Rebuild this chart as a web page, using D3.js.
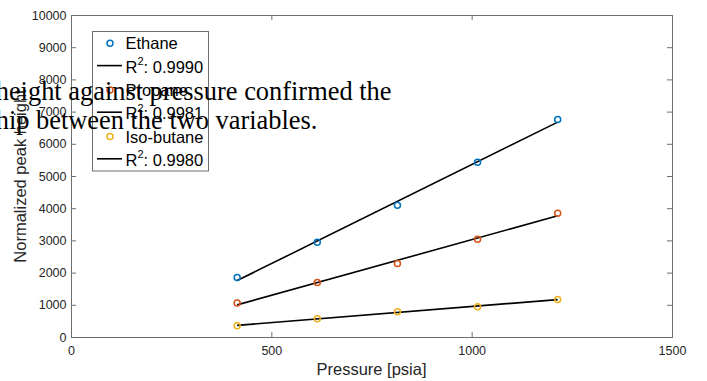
<!DOCTYPE html>
<html>
<head>
<meta charset="utf-8">
<script src="https://cdn.jsdelivr.net/npm/d3@7"></script>
<style>
  body { margin: 0; background: #fff; }
  svg { display: block; }
</style>
</head>
<body>
<div id="chart"></div>
<script>
// data
const pressure = [414.7, 614.7, 814.7, 1014.7, 1214.7];
const ethane = [1847, 2945, 4091, 5424, 6757];
const propane = [1054, 1693, 2282, 3037, 3843];
const isobutane = [350, 567, 784, 939, 1166];
const seriesNames = ["Ethane", "Propane", "Iso-butane"];
const r2Labels = ["0.9990", "0.9981", "0.9980"];
const xTicks = [0, 500, 1000, 1500];
const yTicks = [0, 1000, 2000, 3000, 4000, 5000, 6000, 7000, 8000, 9000, 10000];
const colors = ["#0072BD", "#D95319", "#EDB120"];

const width = 707;
const height = 381;
const sans = "'Liberation Sans', Arial, Helvetica, sans-serif";

const svg = d3
  .select("#chart")
  .append("svg")
  .attr("width", width)
  .attr("height", height);

const x = d3.scaleLinear().domain([0, 1500]).range([71, 672]);
const y = d3.scaleLinear().domain([0, 10000]).range([337, 15]);

// least squares line through each series
function fit(ys) {
  const mx = d3.mean(pressure);
  const my = d3.mean(ys);
  let sxy = 0, sxx = 0;
  pressure.forEach((p, i) => {
    sxy += (p - mx) * (ys[i] - my);
    sxx += (p - mx) * (p - mx);
  });
  const b = sxy / sxx;
  const x0 = d3.min(pressure), x1 = d3.max(pressure);
  return [[x0, my + b * (x0 - mx)], [x1, my + b * (x1 - mx)]];
}

const series = [ethane, propane, isobutane].map((v, i) => {
  return {
    name: seriesNames[i],
    color: colors[i],
    points: pressure.map((p, j) => [p, v[j]]),
    line: fit(v)
  };
});

// axes box
svg
  .append("rect")
  .attr("x", x(0) + 0.5)
  .attr("y", y(10000) + 0.5)
  .attr("width", x(1500) - x(0))
  .attr("height", y(0) - y(10000))
  .attr("fill", "none")
  .attr("stroke", "#6e6e6e");

function styleAxis(g) {
  g.select(".domain").remove();
  g.selectAll("line").attr("stroke", "#6e6e6e");
  g.selectAll("text")
    .attr("fill", "#262626")
    .attr("font-family", sans)
    .attr("font-size", "12.5px");
}

const fmt = d3.format("d");

svg
  .append("g")
  .attr("transform", `translate(0,${y(0)})`)
  .call(d3.axisBottom(x).tickValues(xTicks).tickFormat(fmt).tickSizeInner(-5).tickSizeOuter(0).tickPadding(9))
  .call(styleAxis);

svg
  .append("g")
  .attr("transform", `translate(0,${y(10000)})`)
  .call(d3.axisTop(x).tickValues(xTicks).tickSizeInner(-5).tickSizeOuter(0).tickFormat(""))
  .call(styleAxis);

svg
  .append("g")
  .attr("transform", `translate(${x(0)},0)`)
  .call(d3.axisLeft(y).tickValues(yTicks).tickFormat(fmt).tickSizeInner(-5).tickSizeOuter(0).tickPadding(4.5))
  .call(styleAxis);

svg
  .append("g")
  .attr("transform", `translate(${x(1500)},0)`)
  .call(d3.axisRight(y).tickValues(yTicks).tickSizeInner(-5).tickSizeOuter(0).tickFormat(""))
  .call(styleAxis);

// axis titles
svg
  .append("text")
  .attr("x", (x(0) + x(1500)) / 2)
  .attr("y", 374.5)
  .attr("text-anchor", "middle")
  .attr("font-family", sans)
  .attr("font-size", "16.5px")
  .attr("fill", "#262626")
  .text("Pressure [psia]");

svg
  .append("text")
  .attr("transform", `translate(26,${(y(0) + y(10000)) / 2}) rotate(-90)`)
  .attr("text-anchor", "middle")
  .attr("font-family", sans)
  .attr("font-size", "16.5px")
  .attr("fill", "#262626")
  .text("Normalized peak height");

// fit lines
const line = d3.line().x(d => x(d[0])).y(d => y(d[1]));

svg
  .append("g")
  .selectAll("path")
  .data(series)
  .enter()
  .append("path")
  .attr("d", d => line(d.line))
  .attr("fill", "none")
  .attr("stroke", "#000")
  .attr("stroke-width", 1.6);

// markers
let markerGroups = svg
  .append("g")
  .selectAll("g")
  .data(series)
  .enter()
  .append("g");

markerGroups
  .selectAll("circle")
  .data(d => d.points.map(p => ({ p: p, color: d.color })))
  .enter()
  .append("circle")
  .attr("cx", d => x(d.p[0]))
  .attr("cy", d => y(d.p[1]))
  .attr("r", 3)
  .attr("fill", "none")
  .attr("stroke", d => d.color)
  .attr("stroke-width", 1.5);

// legend
const legend = svg.append("g");
legend
  .append("rect")
  .attr("x", 92.5)
  .attr("y", 31.5)
  .attr("width", 116)
  .attr("height", 139.5)
  .attr("fill", "#fff")
  .attr("stroke", "#6e6e6e");

const rowStep = 23.3;
series.forEach((s, i) => {
  const cyMarker = 43.3 + i * 2 * rowStep;
  const cyLine = cyMarker + rowStep;

  legend
    .append("circle")
    .attr("cx", 110)
    .attr("cy", cyMarker)
    .attr("r", 3)
    .attr("fill", "none")
    .attr("stroke", s.color)
    .attr("stroke-width", 1.5);

  legend
    .append("text")
    .attr("x", 125.5)
    .attr("y", cyMarker + 6)
    .attr("font-family", sans)
    .attr("font-size", "16.5px")
    .attr("fill", "#000")
    .text(s.name);

  legend
    .append("line")
    .attr("x1", 97)
    .attr("x2", 122)
    .attr("y1", cyLine - 1)
    .attr("y2", cyLine - 1)
    .attr("stroke", "#000")
    .attr("stroke-width", 1.6);

  let t = legend
    .append("text")
    .attr("x", 125.5)
    .attr("y", cyLine + 6)
    .attr("font-family", sans)
    .attr("font-size", "16.5px")
    .attr("fill", "#000");
  t.append("tspan").text("R");
  t.append("tspan").attr("dy", -7.5).attr("font-size", "11px").text("2");
  t.append("tspan").attr("dy", 7.5).text(": " + r2Labels[i]);
});

// document text lying over the figure
const overlay = ["height against pressure confirmed the", "hip between the two variables."];
svg
  .append("g")
  .selectAll("text")
  .data(overlay)
  .enter()
  .append("text")
  .attr("x", -4.3)
  .attr("y", (d, i) => 100 + i * 28.5)
  .attr("font-family", "'Liberation Serif', 'Times New Roman', serif")
  .attr("font-size", "26.4px")
  .attr("fill", "#000")
  .text(d => d);
</script>
</body>
</html>
